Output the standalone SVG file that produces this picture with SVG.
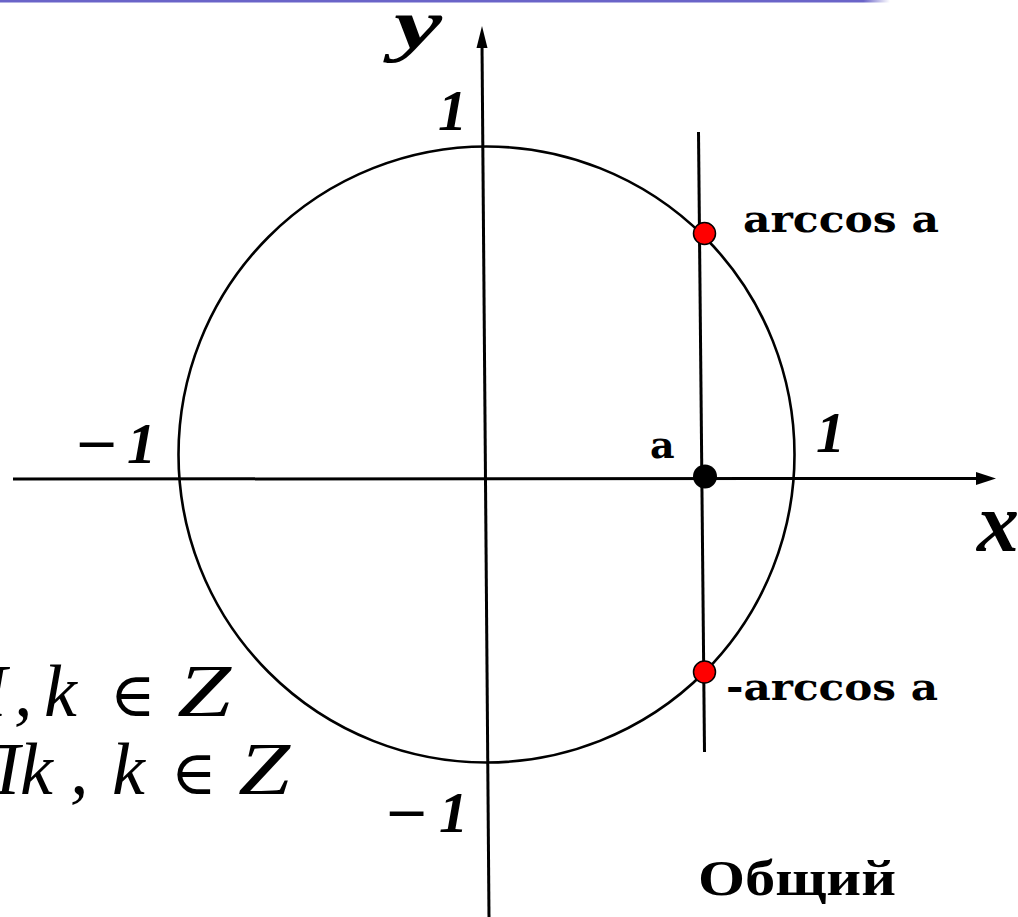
<svg xmlns="http://www.w3.org/2000/svg" width="1018" height="917" viewBox="0 0 1018 917">
<style>
.ax{stroke:#000;stroke-width:3;fill:none}
.crv{stroke:#000;stroke-width:2.6;fill:none}
.num{font-family:"Liberation Serif","DejaVu Serif",serif;font-weight:bold;font-style:italic;fill:#000}
.lbl{font-family:"DejaVu Serif",serif;font-weight:bold;fill:#000}
.frm{font-family:"Liberation Serif","DejaVu Serif",serif;font-style:italic;fill:#000}
.cap{font-family:"Liberation Serif","DejaVu Serif",serif;font-weight:bold;fill:#000}
</style>
<defs>
<linearGradient id="bar" x1="0" y1="0" x2="1" y2="0">
<stop offset="0" stop-color="#6a64c8"/>
<stop offset="0.97" stop-color="#6a64c8"/>
<stop offset="1" stop-color="#6a64c8" stop-opacity="0"/>
</linearGradient>
</defs>
<rect x="0" y="0" width="890" height="2.5" fill="url(#bar)"/>
<g id="connectors">
<line class="ax" x1="13" y1="479" x2="978" y2="478.5"/>
<polygon points="996,478.5 976,472 976,485" fill="#000"/>
<line class="ax" x1="489" y1="917" x2="482" y2="44"/>
<polygon points="482,26 476.5,48 487.5,48" fill="#000"/>
<line class="ax" x1="698.5" y1="132" x2="704.5" y2="752"/>
</g>
<g id="circle">
<circle class="crv" cx="486.5" cy="454.5" r="308"/>
</g>
<g id="point-a">
<circle cx="705" cy="476.5" r="12" fill="#000"/>
<text class="lbl" x="650" y="458" font-size="38">a</text>
</g>
<g id="point-arccos">
<circle cx="704.5" cy="233.5" r="11" fill="#f00" stroke="#000" stroke-width="1.5"/>
<text class="lbl" x="743" y="232" font-size="38" textLength="196" lengthAdjust="spacingAndGlyphs">arccos a</text>
</g>
<g id="point-minus-arccos">
<circle cx="704.5" cy="672" r="11" fill="#f00" stroke="#000" stroke-width="1.5"/>
<text class="lbl" x="726" y="700" font-size="38" textLength="212" lengthAdjust="spacingAndGlyphs">-arccos a</text>
</g>
<g id="axis-labels">
<text class="num" x="394" y="48" font-size="70" textLength="48" lengthAdjust="spacingAndGlyphs">y</text>
<text class="num" x="977" y="551" font-size="84">x</text>
<text class="num" x="438" y="130" font-size="58">1</text>
<text class="num" x="816" y="452" font-size="58">1</text>
<text class="num" x="74" y="466" font-size="64" textLength="44" lengthAdjust="spacingAndGlyphs">−</text>
<text class="num" x="127" y="463" font-size="58">1</text>
<text class="num" x="384" y="835" font-size="64" textLength="44" lengthAdjust="spacingAndGlyphs">−</text>
<text class="num" x="439" y="832" font-size="58">1</text>
</g>
<g id="formulas">
<text class="frm" font-size="74" y="716"><tspan x="-47">П</tspan><tspan x="14">,</tspan><tspan x="44">k</tspan><tspan x="110" font-style="normal" font-size="62">∈</tspan><tspan x="177" textLength="54" lengthAdjust="spacingAndGlyphs">Z</tspan></text>
<text class="frm" font-size="74" y="794"><tspan x="-34">П</tspan><tspan x="20">k</tspan><tspan x="70">,</tspan><tspan x="112">k</tspan><tspan x="171" font-style="normal" font-size="62">∈</tspan><tspan x="238" textLength="52" lengthAdjust="spacingAndGlyphs">Z</tspan></text>
</g>
<g id="caption">
<text class="cap" x="698" y="895" font-size="50" textLength="198" lengthAdjust="spacingAndGlyphs">Общий</text>
</g>
</svg>
